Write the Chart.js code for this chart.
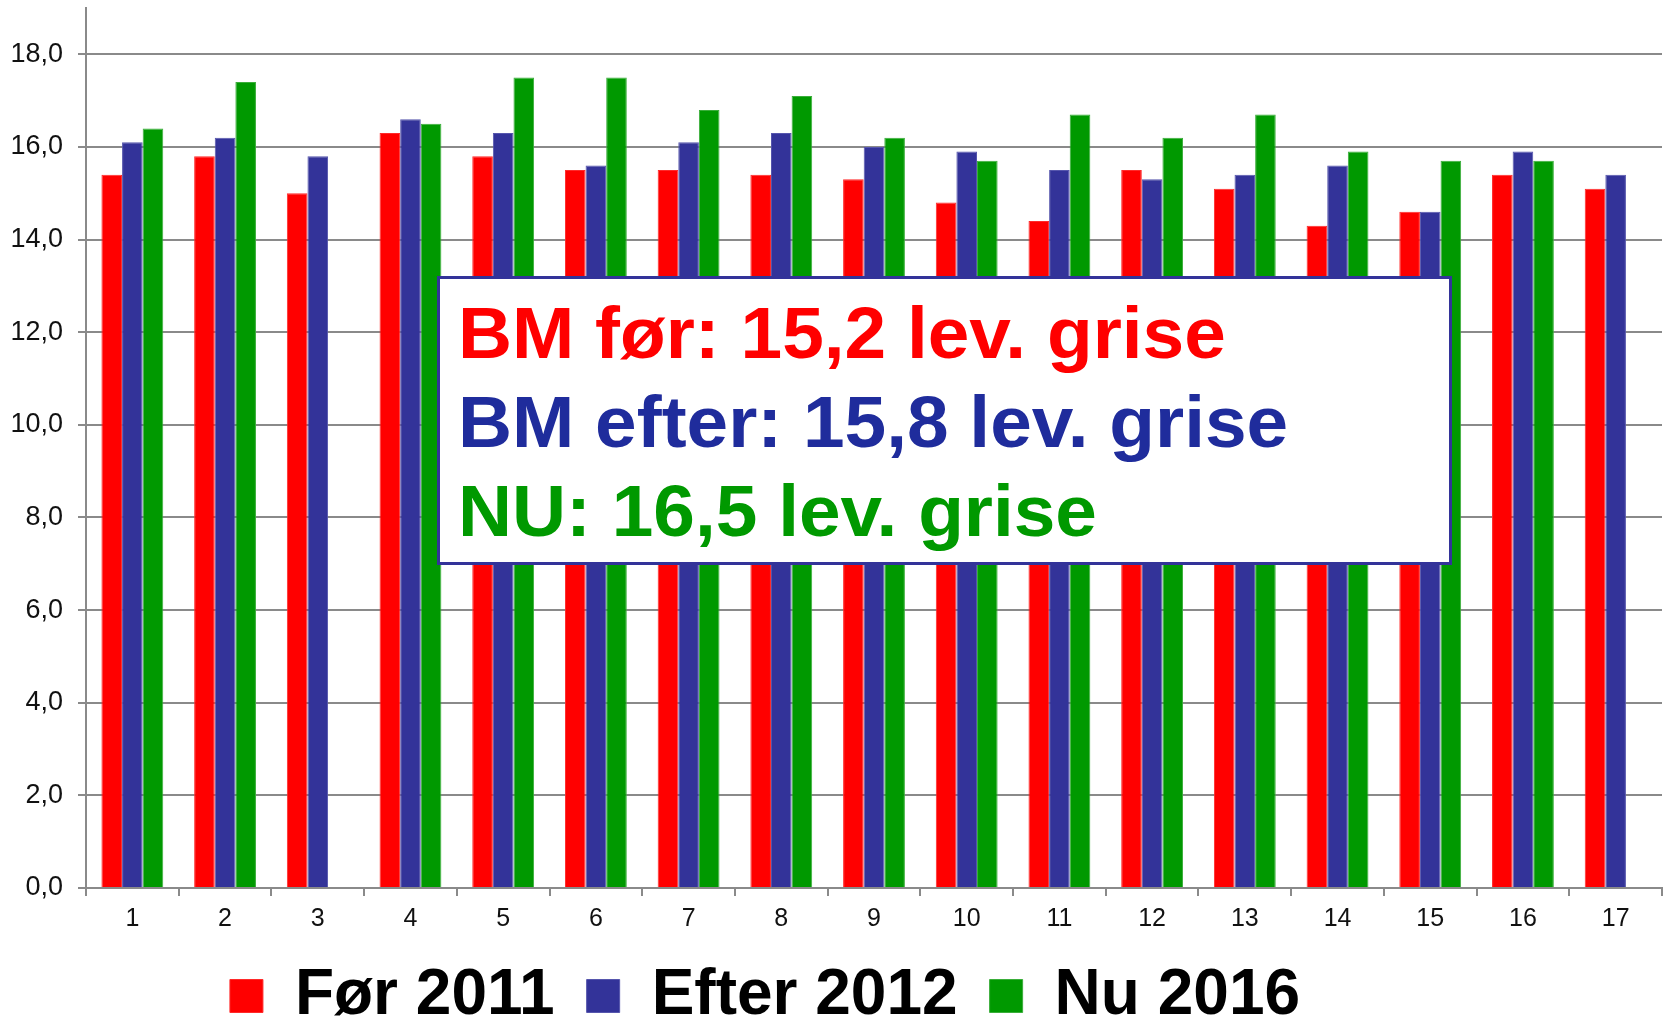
<!DOCTYPE html>
<html>
<head>
<meta charset="utf-8">
<script src="https://cdn.jsdelivr.net/npm/chart.js@4/dist/chart.umd.min.js"></script>
<style>
    html, body { margin: 0; padding: 0; overflow: hidden; background: #fff; }
    #wrap { position: relative; width: 1665px; height: 1038px; }
    #note {
        position: absolute; left: 437px; top: 276px; width: 1015px; height: 289px;
        box-sizing: border-box; border: 3px solid #333399; background: #fff;
        padding: 10px 0 0 18px; white-space: nowrap;
        font: bold 72px 'Liberation Sans', Arial, sans-serif; line-height: 89px;
    }
    #note div { transform: scaleX(1.039); transform-origin: left center; }
</style>
</head>
<body>
<div id="wrap">
    <canvas id="kuldstoerrelse"></canvas>
    <div id="note">
        <div style="color:#ff0000">BM før: 15,2 lev. grise</div>
        <div style="color:#1f2c9c">BM efter: 15,8 lev. grise</div>
        <div style="color:#009900">NU: 16,5 lev. grise</div>
    </div>
</div>
<script>
var besaetninger = ['1', '2', '3', '4', '5', '6', '7', '8', '9', '10', '11', '12', '13', '14', '15', '16', '17'];
var foer2011 = [15.4, 15.8, 15.0, 16.3, 15.8, 15.5, 15.5, 15.4, 15.3, 14.8, 14.4, 15.5, 15.1, 14.3, 14.6, 15.4, 15.1];
var efter2012 = [16.1, 16.2, 15.8, 16.6, 16.3, 15.6, 16.1, 16.3, 16.0, 15.9, 15.5, 15.3, 15.4, 15.6, 14.6, 15.9, 15.4];
var nu2016 = [16.4, 17.4, null, 16.5, 17.5, 17.5, 16.8, 17.1, 16.2, 15.7, 16.7, 16.2, 16.7, 15.9, 15.7, 15.7, null];

var skrift = "'Liberation Sans', Arial, sans-serif";
var gitter = '#8a8a8a';

// flytter legenden lidt til venstre som i originalen
var flytLegende = {
    id: 'flytLegende',
    afterLayout: function (chart) {
        chart.legend.left -= 72;
        chart.legend.right -= 72;
    }
};

var ctx = document.getElementById('kuldstoerrelse').getContext('2d');
var myChart = new Chart(ctx, {
    type: 'bar',
    data: {
        labels: besaetninger,
        datasets: [
            { label: 'Før 2011', data: foer2011, backgroundColor: '#ff0000', borderColor: '#ff2a2a', borderWidth: 1 },
            { label: 'Efter 2012', data: efter2012, backgroundColor: '#333399', borderColor: '#5656ad', borderWidth: 1 },
            { label: 'Nu 2016', data: nu2016, backgroundColor: '#009900', borderColor: '#3aae3a', borderWidth: 1 }
        ]
    },
    options: {
        responsive: true,
        maintainAspectRatio: false,
        animation: false,
        layout: { padding: { top: 8, left: 12, right: 3, bottom: 0 } },
        datasets: { bar: { categoryPercentage: 0.667, barPercentage: 1.0 } },
        scales: {
            x: {
                grid: { drawOnChartArea: false, color: gitter, lineWidth: 2, tickLength: 8 },
                border: { color: gitter, width: 2 },
                ticks: { color: '#111', padding: 8, font: { family: skrift, size: 25 } },
                afterFit: function (scale) { scale.height = 44; }
            },
            y: {
                min: 0,
                max: 19,
                grid: { color: gitter, lineWidth: 2, tickLength: 8 },
                border: { color: gitter, width: 2 },
                ticks: {
                    stepSize: 2,
                    includeBounds: false,
                    color: '#111',
                    padding: 15,
                    font: { family: skrift, size: 27 },
                    callback: function (v) { return v.toFixed(1).replace('.', ','); }
                },
                afterFit: function (scale) {
                    scale.width = 74;
                    scale.paddingTop = 0;
                    scale.paddingBottom = 0;
                }
            }
        },
        plugins: {
            tooltip: { enabled: false },
            legend: {
                position: 'bottom',
                labels: {
                    color: '#000',
                    boxWidth: 33,
                    boxHeight: 33,
                    padding: 32,
                    font: { family: skrift, size: 64, weight: 'bold' }
                }
            }
        }
    },
    plugins: [flytLegende]
});
</script>
</body>
</html>
